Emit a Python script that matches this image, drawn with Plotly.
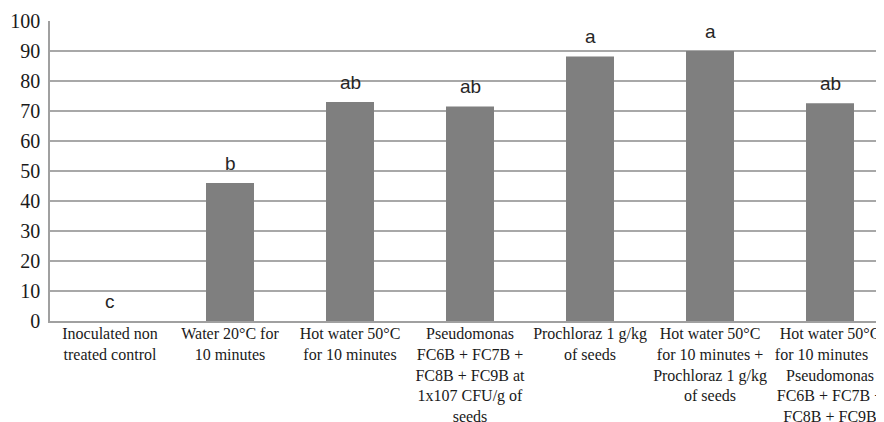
import plotly.graph_objects as go

categories = [
    "Inoculated non<br>treated control",
    "Water 20°C for<br>10 minutes",
    "Hot water 50°C<br>for 10 minutes",
    "Pseudomonas<br>FC6B + FC7B +<br>FC8B + FC9B at<br>1x107 CFU/g of<br>seeds",
    "Prochloraz 1 g/kg<br>of seeds",
    "Hot water 50°C<br>for 10 minutes +<br>Prochloraz 1 g/kg<br>of seeds",
    "Hot water 50°C<br>for 10 minutes  +<br>Pseudomonas<br>FC6B + FC7B +<br>FC8B + FC9B",
]
values = [0, 46, 73, 71.5, 88.2, 90, 72.6]
letters = ["c", "b", "ab", "ab", "a", "a", "ab"]
y_ticks = [0, 10, 20, 30, 40, 50, 60, 70, 80, 90, 100]

xpos = list(range(len(categories)))

fig = go.Figure()
fig.add_trace(go.Bar(
    x=xpos, y=values, width=0.4,
    marker=dict(color="#7f7f7f", line=dict(width=0)),
    showlegend=False,
))

for xi, v, lab in zip(xpos, values, letters):
    fig.add_annotation(
        x=xi, y=v, text=lab, showarrow=False, yshift=20,
        font=dict(family="Liberation Sans, Arial, sans-serif", size=19, color="#262626"),
        xanchor="center", yanchor="middle",
    )

fig.update_layout(
    width=884, height=422,
    margin=dict(l=42, r=8, t=13, b=109),
    paper_bgcolor="white", plot_bgcolor="white",
    xaxis=dict(
        range=[-0.5, 6.45], tickmode="array", tickvals=xpos, ticktext=categories,
        showgrid=False, showline=True, linecolor="#a0a0a0", linewidth=1.5,
        ticks="", tickangle=0, zeroline=False, automargin=False,
        ticklabeloverflow="allow", ticklabelstandoff=-3,
        tickfont=dict(family="Liberation Serif, Times New Roman, serif", size=16, color="#1a1a1a"),
    ),
    yaxis=dict(
        range=[0, 100], tickmode="array", tickvals=y_ticks,
        showgrid=True, gridcolor="#a8a8a8", gridwidth=1.5,
        showline=True, linecolor="#a0a0a0", linewidth=1.5,
        ticks="", zeroline=False, automargin=False, ticklabelstandoff=4,
        tickfont=dict(family="Liberation Serif, Times New Roman, serif", size=20, color="#1a1a1a"),
    ),
)

fig.write_html("out.html")
